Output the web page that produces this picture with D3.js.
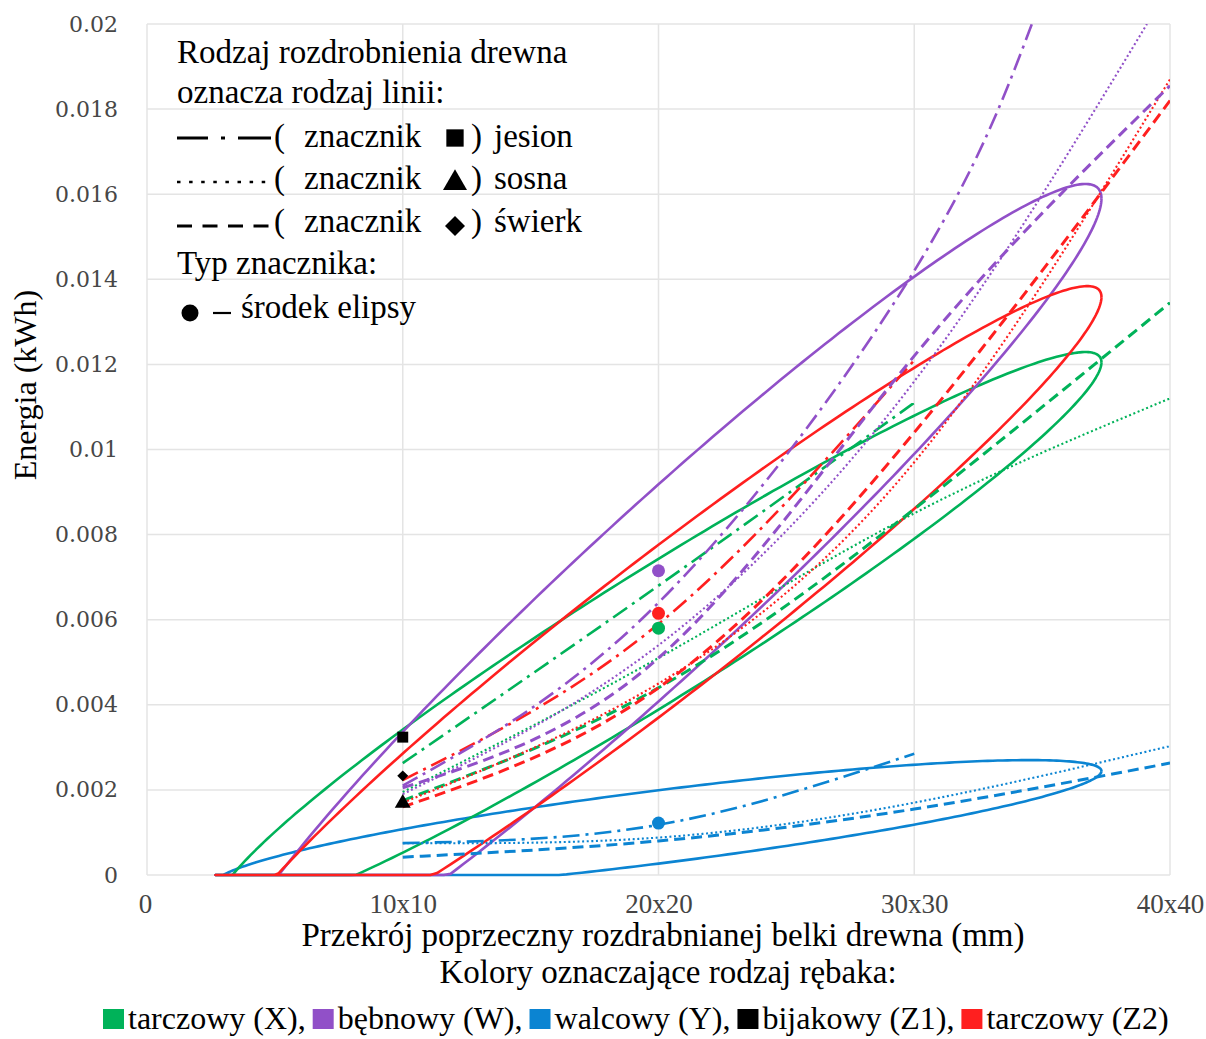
<!DOCTYPE html>
<html>
<head>
<meta charset="utf-8">
<script src="https://cdn.jsdelivr.net/npm/d3@7"></script>
<style>
  html, body { margin: 0; padding: 0; background: #ffffff; }
  svg { display: block; }
</style>
</head>
<body>
<svg id="chart" width="1206" height="1039"></svg>
<script>
// ---- axis ticks ----
const xTickValues = [0, 10, 20, 30, 40];
const xTickLabels = ["0", "10x10", "20x20", "30x30", "40x40"];
const yTickValues = [0, 0.002, 0.004, 0.006, 0.008, 0.01, 0.012, 0.014, 0.016, 0.018, 0.02];
const yTickLabels = ["0", "0.002", "0.004", "0.006", "0.008", "0.01", "0.012", "0.014", "0.016", "0.018", "0.02"];

// ---- chippers (colour legend) ----
const chipperNames  = ["tarczowy (X),", "bębnowy (W),", "walcowy (Y),", "bijakowy (Z1),", "tarczowy (Z2)"];
const chipperColors = ["#00b259", "#9150c8", "#0b84d2", "#000000", "#ff1f1f"];

// ---- mean energy at 20x20 (ellipse centres): X, W, Y, Z2 ----
const meanSize   = [20, 20, 20, 20];
const meanEnergy = [0.0058, 0.00715, 0.00122, 0.00615];
const meanColors = ["#00b259", "#9150c8", "#0b84d2", "#ff1f1f"];

// ---- confidence ellipses: Y, X, W, Z2 ----
const ellipseColors  = ["#0b84d2", "#00b259", "#9150c8", "#ff1f1f"];
const ellipseCx      = [20, 20, 20, 20];
const ellipseCy      = [0.00113, 0.00566, 0.00663, 0.00573];
const ellipseRx      = [17.32, 17.32, 17.32, 17.32];
const ellipseRy      = [0.00157, 0.00663, 0.00961, 0.00811];
const ellipseTiltDeg = [33.3, 15.5, 15.4, 14.5];

// ---- bijakowy (Z1) markers at 10x10: jesion, świerk, sosna ----
const z1Size    = [10, 10, 10];
const z1Energy  = [0.00324, 0.00233, 0.00169];
const z1Symbols = ["square", "diamond", "triangle"];

// ---- trend lines: jesion (dash-dot), sosna (dotted), świerk (dashed) ----
// tarczowy (X)
const jesionX_size = [10, 20, 30];
const jesionX      = [0.00263, 0.0068, 0.0111];
const sosnaX_size  = [10, 20, 30, 40];
const sosnaX       = [0.00195, 0.0051, 0.0085, 0.0112];
const swierkX_size = [10, 20, 30, 40];
const swierkX      = [0.00175, 0.0044, 0.0086, 0.01345];
// bębnowy (W)
const jesionW_size = [10, 20, 30, 34.6];
const jesionW      = [0.0021, 0.0064, 0.0142, 0.0200];
const sosnaW_size  = [10, 20, 30, 39.1];
const sosnaW       = [0.0019, 0.0054, 0.0116, 0.0200];
const swierkW_size = [10, 20, 30, 40];
const swierkW      = [0.00205, 0.0051, 0.0122, 0.01855];
// walcowy (Y)
const jesionY_size = [10, 20, 30];
const jesionY      = [0.00075, 0.00118, 0.00285];
const sosnaY_size  = [10, 20, 30, 40];
const sosnaY       = [0.00075, 0.00088, 0.0017, 0.00303];
const swierkY_size = [10, 20, 30, 40];
const swierkY      = [0.00042, 0.0008, 0.00155, 0.00263];
// tarczowy (Z2)
const jesionZ2_size = [10, 20, 30];
const jesionZ2      = [0.00223, 0.0059, 0.0121];
const sosnaZ2_size  = [10, 20, 30, 40];
const sosnaZ2       = [0.0017, 0.0045, 0.0097, 0.0187];
const swierkZ2_size = [10, 20, 30, 40];
const swierkZ2      = [0.0016, 0.0044, 0.0104, 0.0182];

// ---- text ----
const legendLines = ["Rodzaj rozdrobnienia drewna", "oznacza rodzaj linii:"];
const legendSpecies = ["jesion", "sosna", "świerk"];
const legendSymbols = ["square", "triangle", "diamond"];
const legendMarkerTitle = "Typ znacznika:";
const legendCentre = "środek elipsy";
const xTitle = "Przekrój poprzeczny rozdrabnianej belki drewna (mm)";
const yTitle = "Energia (kWh)";
const colourTitle = "Kolory oznaczające rodzaj rębaka:";

// ================= drawing =================
const svg = d3.select("#chart");
const serif = "'Liberation Serif', 'Times New Roman', serif";

const x = d3.scaleLinear().domain([0, 40]).range([147, 1170]);
const y = d3.scaleLinear().domain([0, 0.02]).range([875, 24]);

svg.append("defs").append("clipPath").attr("id", "plot-clip")
  .append("rect").attr("x", x(0)).attr("y", y(0.02))
  .attr("width", x(40) - x(0)).attr("height", y(0) - y(0.02));

// grid
const grid = svg.append("g").attr("stroke", "#e4e4e4").attr("stroke-width", 1.5);
grid.selectAll("line.h").data(yTickValues).join("line")
  .attr("x1", x(0)).attr("x2", x(40))
  .attr("y1", d => y(d)).attr("y2", d => y(d));
grid.selectAll("line.v").data(xTickValues).join("line")
  .attr("y1", y(0)).attr("y2", y(0.02))
  .attr("x1", d => x(d)).attr("x2", d => x(d));

// y axis labels
const yAxis = d3.axisLeft(y).tickValues(yTickValues)
  .tickFormat((d, i) => yTickLabels[i]).tickSize(0).tickPadding(0);
const gy = svg.append("g").attr("transform", `translate(${x(0) - 29},0)`).call(yAxis);
gy.select(".domain").remove();
gy.selectAll("text").attr("font-family", "'DejaVu Serif', serif")
  .attr("font-size", 22).attr("fill", "#474747");

// x axis labels
const xAxis = d3.axisBottom(x).tickValues(xTickValues)
  .tickFormat((d, i) => xTickLabels[i]).tickSize(0).tickPadding(0);
const gx = svg.append("g").attr("transform", `translate(0,${y(0) + 19})`).call(xAxis);
gx.select(".domain").remove();
gx.selectAll("text").attr("font-family", serif)
  .attr("font-size", 27).attr("fill", "#444444");
gx.selectAll(".tick").filter(d => d === 0).select("text").attr("dx", -2);

// ellipses (energy never below zero)
const ellipseLine = d3.line().x(p => x(p[0])).y(p => y(p[1]));
ellipseCx.forEach((cx, i) => {
  const phi = ellipseTiltDeg[i] * Math.PI / 180;
  const pts = d3.range(0, 361, 1).map(deg => {
    const t = deg * Math.PI / 180;
    return [cx + ellipseRx[i] * Math.cos(t),
            Math.max(0, ellipseCy[i] + ellipseRy[i] * Math.cos(t + phi))];
  });
  svg.append("path").datum(pts)
    .attr("d", ellipseLine)
    .attr("fill", "none")
    .attr("stroke", ellipseColors[i])
    .attr("stroke-width", 2.6)
    .attr("stroke-linejoin", "round");
});

// trend lines
const trendLine = d3.line().x(p => x(p[0])).y(p => y(p[1])).curve(d3.curveNatural);
const styles = {
  jesion: { dash: "17,6,3,6", width: 2.6 },
  sosna:  { dash: "2,2.6",    width: 2.1 },
  swierk: { dash: "11,6",     width: 3.0 }
};
const trends = [
  [jesionX_size, jesionX, "#00b259", "jesion"],
  [sosnaX_size, sosnaX, "#00b259", "sosna"],
  [swierkX_size, swierkX, "#00b259", "swierk"],
  [jesionY_size, jesionY, "#0b84d2", "jesion"],
  [sosnaY_size, sosnaY, "#0b84d2", "sosna"],
  [swierkY_size, swierkY, "#0b84d2", "swierk"],
  [jesionZ2_size, jesionZ2, "#ff1f1f", "jesion"],
  [sosnaZ2_size, sosnaZ2, "#ff1f1f", "sosna"],
  [swierkZ2_size, swierkZ2, "#ff1f1f", "swierk"],
  [jesionW_size, jesionW, "#9150c8", "jesion"],
  [sosnaW_size, sosnaW, "#9150c8", "sosna"],
  [swierkW_size, swierkW, "#9150c8", "swierk"]
];
const trendG = svg.append("g").attr("clip-path", "url(#plot-clip)");
trends.forEach(([sizes, vals, color, kind]) => {
  const s = styles[kind];
  trendG.append("path").datum(sizes.map((v, i) => [v, vals[i]]))
    .attr("d", trendLine)
    .attr("fill", "none")
    .attr("stroke", color)
    .attr("stroke-width", s.width)
    .attr("stroke-dasharray", s.dash);
});

// ellipse centres
svg.append("g").selectAll("circle").data(meanSize).join("circle")
  .attr("cx", d => x(d)).attr("cy", (d, i) => y(meanEnergy[i]))
  .attr("r", 6.5).attr("fill", (d, i) => meanColors[i]);

// marker shapes; the diamond is a square turned by 45 degrees
function markerPath(kind, size) {
  if (kind === "triangle") return d3.symbol(d3.symbolTriangle, size)();
  return d3.symbol(d3.symbolSquare, size)();
}
function markerRotation(kind) { return kind === "diamond" ? 45 : 0; }

// Z1 markers
const markerSize = { square: 120, diamond: 60, triangle: 110 };
svg.append("g").selectAll("path").data(z1Size).join("path")
  .attr("transform", (d, i) =>
    `translate(${x(d)},${y(z1Energy[i])}) rotate(${markerRotation(z1Symbols[i])})`)
  .attr("d", (d, i) => markerPath(z1Symbols[i], markerSize[z1Symbols[i]]))
  .attr("fill", "#000");

// ---- line-style legend ----
const lg = svg.append("g").attr("font-family", serif).attr("font-size", 33).attr("fill", "#000");
lg.append("text").attr("x", 177).attr("y", 63).text(legendLines[0]);
lg.append("text").attr("x", 177).attr("y", 103).text(legendLines[1]);

const sampleRows = [
  { y: 138, base: 147, kind: "jesion" },
  { y: 182, base: 189, kind: "sosna" },
  { y: 226, base: 232, kind: "swierk" }
];
const sampleDash = { jesion: "31,13,4,13,33", sosna: "3.5,8.6", swierk: "15,10.5" };
const legendMarkerSize = { square: 300, triangle: 250, diamond: 200 };
sampleRows.forEach((r, i) => {
  lg.append("line").attr("x1", 177).attr("x2", 272).attr("y1", r.y).attr("y2", r.y)
    .attr("stroke", "#000").attr("stroke-width", r.kind === "sosna" ? 2.4 : 2.8)
    .attr("stroke-dasharray", sampleDash[r.kind]);
  lg.append("text").attr("x", 274).attr("y", r.base).text("(");
  lg.append("text").attr("x", 304).attr("y", r.base).text("znacznik");
  lg.append("text").attr("x", 471).attr("y", r.base).text(")");
  lg.append("text").attr("x", 494).attr("y", r.base).text(legendSpecies[i]);
  const sym = legendSymbols[i];
  lg.append("path")
    .attr("transform", `translate(455,${r.y + (sym === "triangle" ? 1 : 0)}) rotate(${markerRotation(sym)})`)
    .attr("d", markerPath(sym, legendMarkerSize[sym]))
    .attr("fill", "#000");
});
lg.append("text").attr("x", 177).attr("y", 274).text(legendMarkerTitle);
lg.append("circle").attr("cx", 190).attr("cy", 313).attr("r", 8.5).attr("fill", "#000");
lg.append("line").attr("x1", 213).attr("x2", 231).attr("y1", 313).attr("y2", 313)
  .attr("stroke", "#000").attr("stroke-width", 2.2);
lg.append("text").attr("x", 241).attr("y", 318).text(legendCentre);

// ---- axis titles ----
svg.append("text").attr("x", 663).attr("y", 946).attr("text-anchor", "middle")
  .attr("font-family", serif).attr("font-size", 33).attr("fill", "#000").text(xTitle);
svg.append("text").attr("transform", "translate(36,385) rotate(-90)")
  .attr("text-anchor", "middle")
  .attr("font-family", serif).attr("font-size", 32).attr("fill", "#000").text(yTitle);

// ---- colour legend ----
svg.append("text").attr("x", 668).attr("y", 983).attr("text-anchor", "middle")
  .attr("font-family", serif).attr("font-size", 33).attr("fill", "#000").text(colourTitle);
const cl = svg.append("g").attr("font-family", serif).attr("font-size", 32).attr("fill", "#000");
let cx = 103;
chipperNames.forEach((name, i) => {
  cl.append("rect").attr("x", cx).attr("y", 1009).attr("width", 21).attr("height", 20)
    .attr("fill", chipperColors[i]);
  const t = cl.append("text").attr("x", cx + 25).attr("y", 1029).text(name);
  cx += 25 + t.node().getComputedTextLength() + 7;
});
</script>
</body>
</html>
